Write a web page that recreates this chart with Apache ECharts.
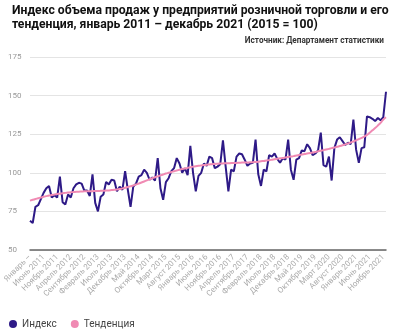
<!DOCTYPE html>
<html><head><meta charset="utf-8">
<script src="https://cdn.jsdelivr.net/npm/echarts@6/dist/echarts.min.js"></script>
<style>html,body{margin:0;padding:0;background:#fff}#c{width:400px;height:333px}</style>
</head><body><div id="c"></div>
<script>
const monthNames = ['Январь','Февраль','Март','Апрель','Май','Июнь','Июль','Август','Сентябрь','Октябрь','Ноябрь','Декабрь'];
const years = [2011,2012,2013,2014,2015,2016,2017,2018,2019,2020,2021];
const categories = [];
years.forEach(y => monthNames.forEach(m => categories.push(m + ' ' + y)));

const indexValues = [
  69, 67.5, 78, 79, 83, 87, 90, 91.5, 84, 85.5, 84, 97.5,
  81, 79.5, 86, 84, 90, 92.5, 93.5, 93, 88.5, 88.5, 85, 99,
  80.5, 75, 84.5, 86, 94, 92.5, 95.5, 95, 88, 91, 89, 101,
  89, 78, 91, 93, 97.5, 98.5, 102, 100, 95.5, 97, 95, 109.5,
  90, 82.5, 94, 96.5, 101, 103, 109.5, 106, 100, 103, 98.5, 117.5,
  100, 88, 98, 100, 106, 104.5, 110.5, 109.5, 103, 104, 105.5, 121,
  104, 88, 102, 101, 110.5, 112.5, 112, 108.5, 104.5, 106, 106.5, 121.5,
  99, 91.5, 102, 101, 111.5, 110.5, 112.5, 109, 106.5, 109.5, 108.5, 121.5,
  102, 95.5, 108.5, 109.5, 114.5, 114, 118.5, 116, 111.5, 112.5, 114.5, 126,
  105, 104, 110.5, 95, 116, 121.5, 123, 120.5, 118, 119.5, 118.5, 134.5,
  115, 106.5, 116, 116.5, 136.5, 136, 135, 133.5, 135.5, 134, 136, 152.5
];
const trendValues = [
  82.0, 82.5, 83.0, 83.5, 84.0, 84.5, 84.9, 85.3, 85.6, 86.0, 86.3, 86.5,
  86.8, 87.0, 87.2, 87.4, 87.5, 87.7, 87.8, 87.9, 88.0, 88.0, 88.1, 88.1,
  88.2, 88.2, 88.3, 88.4, 88.5, 88.6, 88.8, 89.0, 89.2, 89.5, 89.9, 90.3,
  90.8, 91.3, 91.8, 92.4, 93.0, 93.7, 94.4, 95.1, 95.8, 96.5, 97.1, 97.7,
  98.3, 98.9, 99.5, 100.0, 100.5, 101.0, 101.5, 102.0, 102.4, 102.8, 103.2, 103.6,
  104.0, 104.3, 104.5, 104.8, 105.0, 105.2, 105.4, 105.6, 105.7, 105.9, 106.0, 106.1,
  106.2, 106.2, 106.3, 106.4, 106.4, 106.5, 106.6, 106.6, 106.7, 106.8, 106.9, 107.0,
  107.2, 107.5, 107.7, 108.0, 108.2, 108.5, 108.8, 109.1, 109.4, 109.6, 109.9, 110.2,
  110.5, 110.8, 111.2, 111.5, 111.8, 112.2, 112.5, 112.8, 113.2, 113.5, 113.9, 114.3,
  114.7, 115.1, 115.5, 116.0, 116.4, 116.9, 117.3, 117.8, 118.4, 119.0, 119.6, 120.3,
  121.0, 121.8, 122.6, 123.5, 124.6, 126.0, 127.5, 129.0, 130.6, 132.3, 134.5, 136.0
];
const yMin = 50, yMax = 175, yStep = 25;
const titleText = 'Индекс объема продаж у предприятий розничной торговли и его\nтенденция, январь 2011 – декабрь 2021 (2015 = 100)';
const sourceText = 'Источник: Департамент статистики';
const seriesNames = ['Индекс', 'Тенденция'];

const chart = echarts.init(document.getElementById('c'), null, {renderer: 'canvas'});
chart.setOption({
  animation: false,
  textStyle: {fontFamily: 'Roboto'},
  title: [
    {text: titleText, left: 7, top: -1,
     textStyle: {fontSize: 12.2, fontWeight: 'bold', color: '#111', lineHeight: 14, fontFamily: 'Roboto'}},
    {text: sourceText, right: 11, top: 32,
     textStyle: {fontSize: 8.2, fontWeight: 'bold', color: '#333', fontFamily: 'Roboto'}}
  ],
  legend: {
    left: 4, top: 314, icon: 'circle', itemWidth: 8, itemHeight: 8, itemGap: 14,
    textStyle: {fontSize: 10, color: '#444', fontFamily: 'Roboto'},
    data: seriesNames
  },
  grid: {left: 30, right: 14, top: 57, bottom: 83},
  xAxis: {
    type: 'category', data: categories, boundaryGap: false,
    axisLine: {lineStyle: {color: '#666', width: 1.5}},
    axisTick: {show: false},
    axisLabel: {interval: 4, rotate: 45, fontSize: 8, color: '#aaa', margin: 6,
      formatter: (v, i) => i === 0 ? 'Январь –' : v}
  },
  yAxis: {
    type: 'value', min: yMin, max: yMax, interval: yStep,
    axisLine: {show: false}, axisTick: {show: false},
    axisLabel: {fontSize: 8, color: '#999', align: 'left', margin: 22},
    splitLine: {lineStyle: {color: '#e4e4e4', width: 1}}
  },
  series: [
    {name: seriesNames[0], type: 'line', data: indexValues, symbol: 'none',
     lineStyle: {color: '#2e1a87', width: 2}, itemStyle: {color: '#2e1a87'}, z: 3},
    {name: seriesNames[1], type: 'line', data: trendValues, symbol: 'none', smooth: true,
     lineStyle: {color: '#f08ab3', width: 2}, itemStyle: {color: '#f08ab3'}, z: 4}
  ]
});
</script></body></html>
